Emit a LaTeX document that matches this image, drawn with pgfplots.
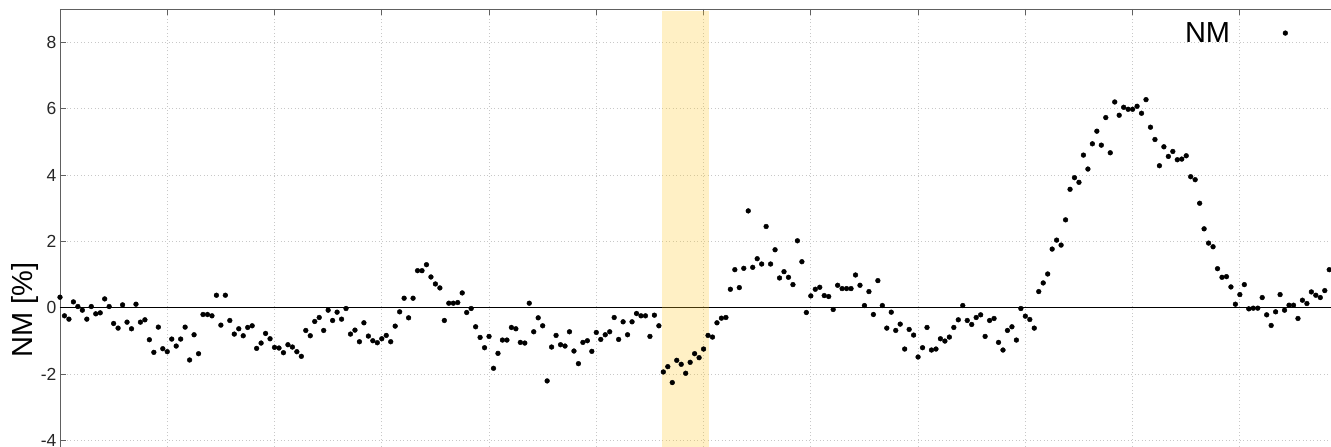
\documentclass[border=0pt]{standalone}
\usepackage{fontspec}
\setmainfont{Liberation Sans}
\usepackage{pgfplots}
\pgfplotsset{compat=1.18}
\definecolor{AxisGray}{HTML}{606060}
\definecolor{GridGray}{HTML}{C8C8C8}
\definecolor{ShadeYellow}{HTML}{FFC828}
\pgfplotsset{nmlegend/.style={legend image code/.code={\path (0pt,0pt) (55pt,0pt); \draw[##1,draw=none] plot coordinates {(55pt,0pt)};}}}

\pgfplotstableread{
i v
0 0.32
1 -0.24
2 -0.34
3 0.18
4 0.04
5 -0.07
6 -0.34
7 0.04
8 -0.18
9 -0.15
10 0.27
11 0.04
12 -0.47
13 -0.61
14 0.09
15 -0.43
16 -0.63
17 0.11
18 -0.43
19 -0.36
20 -0.96
21 -1.34
22 -0.58
23 -1.23
24 -1.32
25 -0.94
26 -1.15
27 -0.94
28 -0.58
29 -1.57
30 -0.81
31 -1.38
32 -0.20
33 -0.20
34 -0.24
35 0.38
36 -0.52
37 0.38
38 -0.38
39 -0.79
40 -0.63
41 -0.84
42 -0.59
43 -0.54
44 -1.22
45 -1.06
46 -0.77
47 -0.93
48 -1.19
49 -1.21
50 -1.35
51 -1.11
52 -1.18
53 -1.32
54 -1.46
55 -0.68
56 -0.84
57 -0.41
58 -0.29
59 -0.68
60 -0.07
61 -0.38
62 -0.13
63 -0.34
64 -0.02
65 -0.79
66 -0.67
67 -1.02
68 -0.45
69 -0.85
70 -0.99
71 -1.05
72 -0.93
73 -0.83
74 -1.02
75 -0.55
76 -0.12
77 0.29
78 -0.30
79 0.29
80 1.12
81 1.12
82 1.30
83 0.93
84 0.72
85 0.60
86 -0.38
87 0.14
88 0.14
89 0.16
90 0.45
91 -0.14
92 -0.02
93 -0.57
94 -0.89
95 -1.20
96 -0.86
97 -1.82
98 -1.37
99 -0.97
100 -0.97
101 -0.59
102 -0.63
103 -1.04
104 -1.06
105 0.14
106 -0.72
107 -0.30
108 -0.54
109 -2.20
110 -1.18
111 -0.83
112 -1.11
113 -1.15
114 -0.72
115 -1.30
116 -1.68
117 -1.04
118 -0.99
119 -1.31
120 -0.74
121 -0.95
122 -0.81
123 -0.72
124 -0.29
125 -0.95
126 -0.42
127 -0.81
128 -0.42
129 -0.17
130 -0.24
131 -0.24
132 -0.86
133 -0.22
134 -0.54
135 -1.93
136 -1.77
137 -2.25
138 -1.58
139 -1.70
140 -1.97
141 -1.64
142 -1.38
143 -1.50
144 -1.24
145 -0.83
146 -0.88
147 -0.45
148 -0.31
149 -0.29
150 0.56
151 1.15
152 0.61
153 1.19
154 2.92
155 1.22
156 1.48
157 1.32
158 2.45
159 1.32
160 1.75
161 0.90
162 1.09
163 0.92
164 0.70
165 2.02
166 1.39
167 -0.14
168 0.36
169 0.56
170 0.62
171 0.37
172 0.34
173 -0.05
174 0.68
175 0.58
176 0.58
177 0.58
178 0.99
179 0.68
180 0.07
181 0.49
182 -0.20
183 0.82
184 0.07
185 -0.61
186 -0.13
187 -0.68
188 -0.49
189 -1.24
190 -0.65
191 -0.82
192 -1.48
193 -1.20
194 -0.59
195 -1.27
196 -1.24
197 -0.93
198 -1.00
199 -0.88
200 -0.59
201 -0.36
202 0.07
203 -0.38
204 -0.50
205 -0.29
206 -0.21
207 -0.86
208 -0.38
209 -0.32
210 -1.04
211 -1.27
212 -0.68
213 -0.57
214 -0.97
215 -0.02
216 -0.25
217 -0.35
218 -0.61
219 0.49
220 0.75
221 1.02
222 1.77
223 2.04
224 1.89
225 2.65
226 3.57
227 3.92
228 3.78
229 4.60
230 4.18
231 4.94
232 5.32
233 4.90
234 5.73
235 4.67
236 6.20
237 5.80
238 6.04
239 5.98
240 5.98
241 6.07
242 5.86
243 6.27
244 5.44
245 5.07
246 4.28
247 4.85
248 4.56
249 4.71
250 4.46
251 4.48
252 4.58
253 3.95
254 3.86
255 3.15
256 2.38
257 1.95
258 1.84
259 1.18
260 0.92
261 0.94
262 0.63
263 0.11
264 0.40
265 0.70
266 -0.03
267 -0.01
268 -0.01
269 0.31
270 -0.21
271 -0.53
272 -0.12
273 0.40
274 -0.07
275 0.08
276 0.08
277 -0.32
278 0.23
279 0.13
280 0.48
281 0.38
282 0.31
283 0.52
284 1.15
}\nmdata

\begin{document}
\begin{tikzpicture}
\begin{axis}[
  at={(0pt,0pt)}, anchor=south west,
  scale only axis,
  width=1271pt, height=438pt,
  xmin=0, xmax=284.4,
  ymin=-4.19, ymax=9.0,
  axis x line*=top, axis y line*=left,
  axis line style={AxisGray, line width=0.9pt},
  xtick={0,24,...,288},
  xticklabels={},
  ytick={-4,-2,0,2,4,6,8},
  tick align=inside,
  major tick length=6pt,
  tick style={AxisGray, line width=0.9pt},
  grid=major,
  grid style={GridGray, line width=0.8pt, dash pattern=on 1pt off 2.5pt},
  /pgf/number format/assume math mode=true,
  yticklabel style={font=\fontsize{17.5}{20}\selectfont, text=black!85},
  ylabel={NM [\%]},
  ylabel style={font=\fontsize{29}{32}\selectfont, at={(axis description cs:-0.0275,0.313)}, anchor=center},
  legend plot pos=right,
  legend style={draw=none, fill=none, inner sep=0pt, font=\fontsize{29}{32}\selectfont,
    at={(axis description cs:0.885,0.945)}, anchor=west,
    nodes={inner sep=0pt}},
]
\draw[black, line width=1pt] (axis cs:0,0) -- (axis cs:284.4,0);
\addplot[only marks, mark=*, mark size=2.4pt, black, nmlegend]
  table[x=i, y=v] {\nmdata};
\addlegendentry{NM}
\fill[ShadeYellow, opacity=0.27] (axis cs:134.6,-4.19) rectangle (axis cs:145.2,8.95);
\end{axis}
\pgfresetboundingbox
\path[use as bounding box] (-60pt,0pt) rectangle (1271pt,447pt);
\end{tikzpicture}
\end{document}
